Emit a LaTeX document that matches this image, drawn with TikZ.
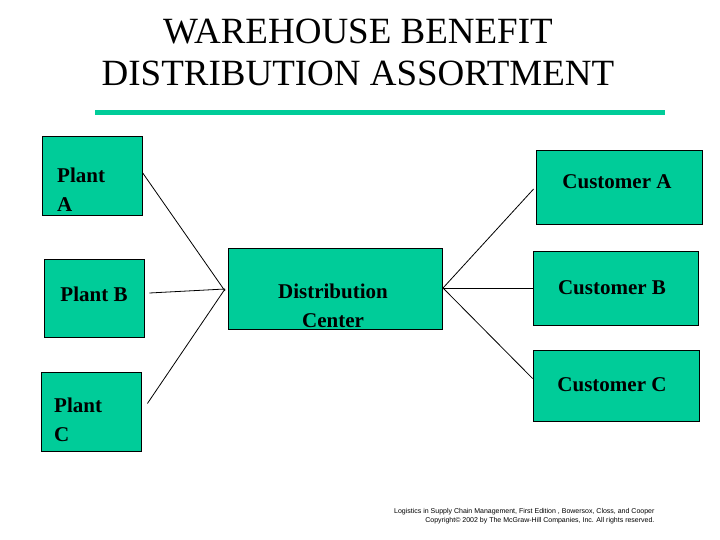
\documentclass[tikz,border=0pt]{standalone}
\usepackage{fontspec}
\setmainfont{Liberation Serif}
\newfontfamily\footfont{Liberation Sans}
\definecolor{teal1}{HTML}{00CC99}
\begin{document}
\begin{tikzpicture}[x=1pt,y=-1pt,
  box/.style={draw=black,line width=0.8pt,fill=teal1,inner sep=0pt},
  lbl/.style={font=\fontsize{21}{29}\selectfont\bfseries,inner sep=0pt},
  con/.style={line width=0.8pt}]
\useasboundingbox (0,0) rectangle (720,540);
\fill[white] (0,0) rectangle (720,540);
\node[font=\fontsize{37}{42}\selectfont,align=center,inner sep=0pt] (title) at (358,52) {WAREHOUSE BENEFIT\\DISTRIBUTION ASSORTMENT};
\draw[teal1,line width=5pt] (95,113) -- (665,113);
\node[box,minimum width=100,minimum height=79] (pa) at (92,175.5) {};
\node[box,minimum width=100,minimum height=78] (pb) at (94,298) {};
\node[box,minimum width=100,minimum height=79] (pc) at (91,411.5) {};
\node[box,minimum width=214,minimum height=81] (dc) at (335,288.5) {};
\node[box,minimum width=166,minimum height=74] (ca) at (619,187) {};
\node[box,minimum width=165,minimum height=74] (cb) at (615.5,288) {};
\node[box,minimum width=166,minimum height=71] (cc) at (616,385.5) {};
\node[lbl,anchor=west,align=left] (ta) at (57,190) {Plant\\A};
\node[lbl] (tb) at (94,294) {Plant B};
\node[lbl,anchor=west,align=left] (tc) at (54,420) {Plant\\C};
\node[lbl,align=center] (td) at (333,306) {Distribution\\Center};
\node[lbl] (tca) at (617,182) {Customer A};
\node[lbl] (tcb) at (612,288) {Customer B};
\node[lbl] (tcc) at (612,385) {Customer C};
\coordinate (jl) at (225,291);
\coordinate (jr) at (443,288);
\draw[con] (pa.east) ++(0,-3) -- (jl);
\draw[con] ([xshift=5pt]pb.east) ++(0,-5) -- ([yshift=2pt]jl);
\draw[con] ([xshift=6pt]pc.east) ++(0,-8) -- ([yshift=2pt]jl);
\draw[con] (jr) -- ([xshift=-2pt,yshift=-2pt]ca.west);
\draw[con] (jr) -- (cb.west);
\draw[con] (jr) -- ([yshift=7pt]cc.west);
\node[font=\footfont\fontsize{7}{9.5}\selectfont,align=right,anchor=east] (ft) at (658,516) {Logistics in Supply Chain Management, First Edition , Bowersox, Closs, and Cooper\\Copyright© 2002 by The McGraw-Hill Companies, Inc. All rights reserved.};
\end{tikzpicture}
\end{document}
